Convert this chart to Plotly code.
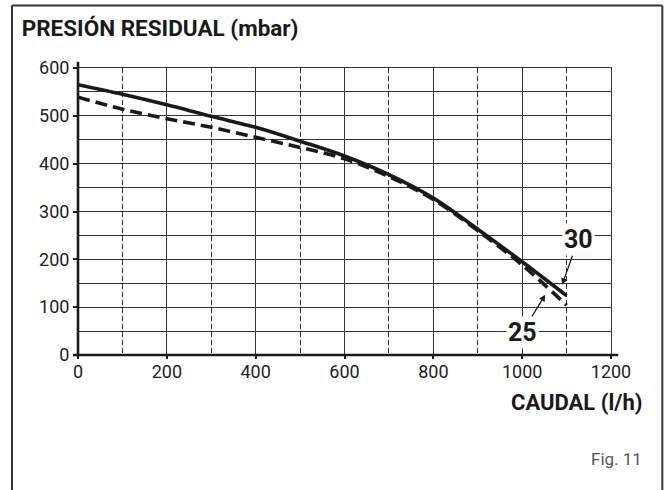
import plotly.graph_objects as go

# Data
caudal = [0, 100, 200, 300, 400, 500, 600, 700, 800, 900, 1000, 1100]
presion_30 = [565, 545, 523, 499, 476, 447, 416, 377, 328, 263, 195, 124]
presion_25 = [539, 514, 494, 476, 455, 434, 410, 373, 325, 260, 188, 104]
x_ticks = [0, 200, 400, 600, 800, 1000, 1200]
y_ticks = [0, 100, 200, 300, 400, 500, 600]

FONT = "Roboto, 'Liberation Sans Narrow', sans-serif"
INK = "#1a1a1a"

fig = go.Figure()
fig.add_trace(go.Scatter(x=caudal, y=presion_30, mode="lines",
                         line=dict(color=INK, width=3.6, shape="spline"),
                         name="30", showlegend=False))
fig.add_trace(go.Scatter(x=caudal, y=presion_25, mode="lines",
                         line=dict(color=INK, width=3.6, shape="spline", dash="12px,6px"),
                         name="25", showlegend=False))

# labels with arrows
fig.add_annotation(x=1090, y=147, ax=1126, ay=241, axref="x", ayref="y",
                   text="<b>30</b>", showarrow=True, arrowhead=2, arrowsize=1,
                   arrowwidth=1.3, arrowcolor=INK, bgcolor="white",
                   font=dict(family=FONT, size=25, color=INK))
fig.add_annotation(x=1052, y=126, ax=1000, ay=47, axref="x", ayref="y",
                   text="<b>25</b>", showarrow=True, arrowhead=2, arrowsize=1,
                   arrowwidth=1.3, arrowcolor=INK, bgcolor="white",
                   font=dict(family=FONT, size=25, color=INK))

# axis titles / figure label
fig.add_annotation(xref="paper", yref="paper", x=1.0627, y=-0.165,
                   xanchor="right", yanchor="middle", showarrow=False,
                   text="<b>CAUDAL (l/h)</b>", font=dict(family=FONT, size=22, color=INK))
fig.add_annotation(xref="paper", yref="paper", x=1.0627, y=-0.363,
                   xanchor="right", yanchor="middle", showarrow=False,
                   text="Fig. 11", font=dict(family=FONT, size=17, color="#555555"))

# thick axis lines extending slightly past the grid
fig.add_shape(type="line", xref="x domain", yref="y domain", x0=-0.009, x1=1.0136, y0=0, y1=0,
              line=dict(color=INK, width=2.6), layer="above")
fig.add_shape(type="line", xref="x domain", yref="y domain", x0=0, x1=0, y0=-0.005, y1=1.022,
              line=dict(color=INK, width=2.6), layer="above")
# outer frame (left, top, right edges)
FX0, FX1, FYB, FYT = -0.1239, 1.0963, -0.6, 1.2175
frame = dict(color="#333333", width=2)
fig.add_shape(type="line", xref="paper", yref="paper", x0=FX0, x1=FX0, y0=FYB, y1=FYT, line=frame, layer="above")
fig.add_shape(type="line", xref="paper", yref="paper", x0=FX1, x1=FX1, y0=FYB, y1=FYT, line=frame, layer="above")
fig.add_shape(type="line", xref="paper", yref="paper", x0=FX0, x1=FX1, y0=FYT, y1=FYT, line=frame, layer="above")

fig.update_xaxes(range=[0, 1200], tickvals=x_ticks, showgrid=True, gridcolor="#333333", gridwidth=1,
                 minor=dict(dtick=100, showgrid=True, gridcolor="#333333", gridwidth=1, griddash="5px,3px"),
                 zeroline=False, showline=True, mirror=True, linecolor="#333333", linewidth=1,
                 ticks="outside", ticklen=3, tickwidth=1.5, tickcolor=INK, ticklabelstandoff=-3,
                 tickfont=dict(family=FONT, size=18, color="#222222"))
fig.update_yaxes(range=[0, 600], tickvals=y_ticks, showgrid=True, gridcolor="#333333", gridwidth=1,
                 minor=dict(dtick=50, showgrid=True, gridcolor="#333333", gridwidth=1),
                 zeroline=False, showline=True, mirror=True, linecolor="#333333", linewidth=1,
                 ticks="outside", ticklen=4, tickwidth=1.5, tickcolor=INK,
                 tickfont=dict(family=FONT, size=18, color="#222222"))

fig.update_layout(
    width=668, height=490,
    margin=dict(l=78, r=57.3, t=68, b=134.5, autoexpand=False),
    paper_bgcolor="white", plot_bgcolor="white",
    title=dict(text="<b>PRESIÓN RESIDUAL (mbar)</b>", x=21.7/668, xanchor="left",
               y=1-28/490, yanchor="middle", xref="container", yref="container",
               font=dict(family=FONT, size=22.5, color=INK)),
)

fig.write_html("out.html", config={"displayModeBar": False},
               post_script="document.body.style.margin='0';")
